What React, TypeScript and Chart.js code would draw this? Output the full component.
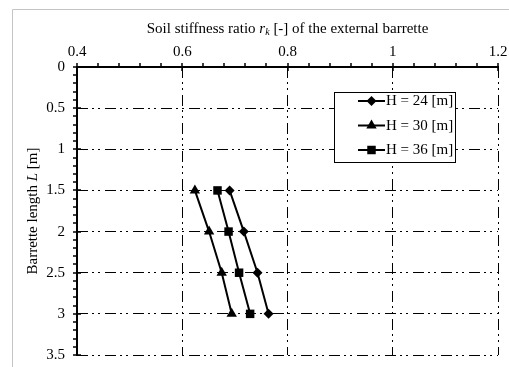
import React, { useEffect, useRef } from 'react';
import { Chart, registerables } from 'chart.js';

Chart.register(...registerables);

// ---- data ----
const barretteLengths = [1.5, 2, 2.5, 3];
const seriesLabels = ['H = 24 [m]', 'H = 30 [m]', 'H = 36 [m]'];
const ratioH24 = [0.69, 0.717, 0.743, 0.764];
const ratioH30 = [0.624, 0.651, 0.675, 0.694];
const ratioH36 = [0.667, 0.688, 0.708, 0.729];
const xTickValues = [0.4, 0.6, 0.8, 1.0, 1.2];
const yTickValues = [0, 0.5, 1, 1.5, 2, 2.5, 3, 3.5];
const pointStyles = ['rectRot', 'triangle', 'rect'];
const pointRadii = [5, 6, 6];

const FONT = '"Liberation Serif", "Times New Roman", serif';

function fmt(v: number) {
  return String(Number(v.toFixed(2)));
}

function drawMarker(ctx: CanvasRenderingContext2D, style: string, x: number, y: number, r: number) {
  ctx.beginPath();
  if (style === 'rectRot') {
    ctx.moveTo(x, y - r);
    ctx.lineTo(x + r, y);
    ctx.lineTo(x, y + r);
    ctx.lineTo(x - r, y);
  } else if (style === 'triangle') {
    ctx.moveTo(x, y - r);
    ctx.lineTo(x + 0.866 * r, y + 0.5 * r);
    ctx.lineTo(x - 0.866 * r, y + 0.5 * r);
  } else {
    const s = Math.SQRT1_2 * r;
    ctx.rect(x - s, y - s, 2 * s, 2 * s);
  }
  ctx.closePath();
  ctx.fill();
}

type Part = { t: string; f: string; dy?: number };

function drawParts(ctx: CanvasRenderingContext2D, parts: Part[], cx: number, cy: number) {
  let total = 0;
  const widths = parts.map((p) => {
    ctx.font = p.f;
    const w = ctx.measureText(p.t).width;
    total += w;
    return w;
  });
  let x = cx - total / 2;
  ctx.textBaseline = 'middle';
  ctx.textAlign = 'left';
  parts.forEach((p, i) => {
    ctx.font = p.f;
    ctx.fillText(p.t, x, cy + (p.dy || 0));
    x += widths[i];
  });
}

const decorPlugin = {
  id: 'decor',
  beforeDraw(chart: any) {
    const ctx = chart.ctx as CanvasRenderingContext2D;
    ctx.save();
    ctx.strokeStyle = '#c4c4c4';
    ctx.lineWidth = 1;
    ctx.beginPath();
    ctx.moveTo(12.5, chart.height);
    ctx.lineTo(12.5, 9.5);
    ctx.lineTo(chart.width, 9.5);
    ctx.stroke();
    ctx.restore();
  },
  afterDraw(chart: any) {
    const ctx = chart.ctx as CanvasRenderingContext2D;
    const xs = chart.scales.x;
    const ys = chart.scales.y;
    const area = chart.chartArea;
    ctx.save();
    ctx.strokeStyle = '#000';
    ctx.fillStyle = '#000';

    // axes
    ctx.lineWidth = 2;
    ctx.beginPath();
    ctx.moveTo(area.left - 1, area.top);
    ctx.lineTo(area.right + 1, area.top);
    ctx.moveTo(area.left, area.top - 1);
    ctx.lineTo(area.left, area.bottom + 1);
    ctx.stroke();

    ctx.lineWidth = 1.5;
    ctx.beginPath();
    for (let k = 0; k <= 20; k++) {
      const v = 0.4 + k * 0.04;
      const px = Math.round(xs.getPixelForValue(v));
      if (k % 5 === 0) {
        ctx.moveTo(px, area.top - 4);
        ctx.lineTo(px, area.top + 4);
      } else {
        ctx.moveTo(px, area.top - 4);
        ctx.lineTo(px, area.top);
      }
    }
    for (let k = 0; k <= 35; k++) {
      const v = k * 0.1;
      const py = Math.round(ys.getPixelForValue(v));
      if (k % 5 === 0) {
        ctx.moveTo(area.left - 4, py);
        ctx.lineTo(area.left + 4, py);
      } else {
        ctx.moveTo(area.left - 4, py);
        ctx.lineTo(area.left, py);
      }
    }
    ctx.stroke();

    // title
    const cx = (area.left + area.right) / 2;
    drawParts(
      ctx,
      [
        { t: 'Soil stiffness ratio ', f: `15px ${FONT}` },
        { t: 'r', f: `italic 15px ${FONT}` },
        { t: 'k', f: `italic 10px ${FONT}`, dy: 3 },
        { t: ' [-] of the external barrette', f: `15px ${FONT}` },
      ],
      cx,
      29
    );

    // y label
    ctx.save();
    ctx.translate(33, (area.top + area.bottom) / 2);
    ctx.rotate(-Math.PI / 2);
    drawParts(
      ctx,
      [
        { t: 'Barrette length ', f: `15px ${FONT}` },
        { t: 'L', f: `italic 15px ${FONT}` },
        { t: ' [m]', f: `15px ${FONT}` },
      ],
      0,
      0
    );
    ctx.restore();

    // legend
    const bx = 334.5, by = 92.5, bw = 121, bh = 70;
    ctx.fillStyle = '#fff';
    ctx.fillRect(bx, by, bw, bh);
    ctx.lineWidth = 1;
    ctx.strokeStyle = '#000';
    ctx.strokeRect(bx, by, bw, bh);
    ctx.fillStyle = '#000';
    chart.data.datasets.forEach((ds: any, i: number) => {
      const ry = 101 + i * 24.5;
      ctx.lineWidth = 2;
      ctx.beginPath();
      ctx.moveTo(358, ry);
      ctx.lineTo(385, ry);
      ctx.stroke();
      drawMarker(ctx, pointStyles[i], 371.5, ry, pointRadii[i]);
      ctx.font = `15px ${FONT}`;
      ctx.textBaseline = 'middle';
      ctx.textAlign = 'left';
      ctx.fillText(ds.label, 386, ry + 0.5);
    });
    ctx.restore();
  },
};

export default function App() {
  const ref = useRef<HTMLCanvasElement>(null);
  useEffect(() => {
    if (!ref.current) return;
    const series = [ratioH24, ratioH30, ratioH36];
    const gridDash = [11, 4, 2, 4, 2, 5];
    const chart = new Chart(ref.current, {
      type: 'scatter',
      data: {
        datasets: series.map((vals, i) => ({
          label: seriesLabels[i],
          data: barretteLengths.map((y, j) => ({ x: vals[j], y })),
          showLine: true,
          borderColor: '#000',
          backgroundColor: '#000',
          borderWidth: 2,
          pointStyle: pointStyles[i] as any,
          pointRadius: pointRadii[i],
          pointBorderWidth: 0,
          pointBackgroundColor: '#000',
        })),
      },
      options: {
        animation: false,
        responsive: false,
        devicePixelRatio: 1,
        layout: { padding: { left: 0, top: 0, right: 11, bottom: 12 } },
        plugins: {
          legend: { display: false },
          tooltip: { enabled: false },
          title: { display: false },
        },
        scales: {
          x: {
            type: 'linear',
            position: 'top',
            min: 0.4,
            max: 1.2,
            afterBuildTicks: (scale: any) => {
              scale.ticks = xTickValues.map((v) => ({ value: v }));
            },
            afterFit: (scale: any) => {
              scale.height = 67;
            },
            ticks: {
              color: '#000',
              font: { family: FONT, size: 15 },
              padding: 0,
              maxRotation: 0,
              callback: (v: any) => fmt(Number(v)),
            },
            grid: { color: '#000', lineWidth: 1, drawTicks: true, tickLength: 6, tickWidth: 0 },
            border: { display: false, dash: gridDash },
          },
          y: {
            type: 'linear',
            reverse: true,
            min: 0,
            max: 3.5,
            afterBuildTicks: (scale: any) => {
              scale.ticks = yTickValues.map((v) => ({ value: v }));
            },
            afterFit: (scale: any) => {
              scale.width = 77;
            },
            ticks: {
              color: '#000',
              font: { family: FONT, size: 15 },
              padding: 0,
              callback: (v: any) => fmt(Number(v)),
            },
            grid: { color: '#000', lineWidth: 1, drawTicks: true, tickLength: 12, tickWidth: 0 },
            border: { display: false, dash: gridDash },
          },
        },
      } as any,
      plugins: [decorPlugin],
    });
    return () => chart.destroy();
  }, []);
  return (
    <div style={{ position: 'absolute', left: 0, top: 0, width: 509, height: 367, background: '#fff' }}>
      <canvas ref={ref} width={509} height={367} style={{ display: 'block' }} />
    </div>
  );
}
